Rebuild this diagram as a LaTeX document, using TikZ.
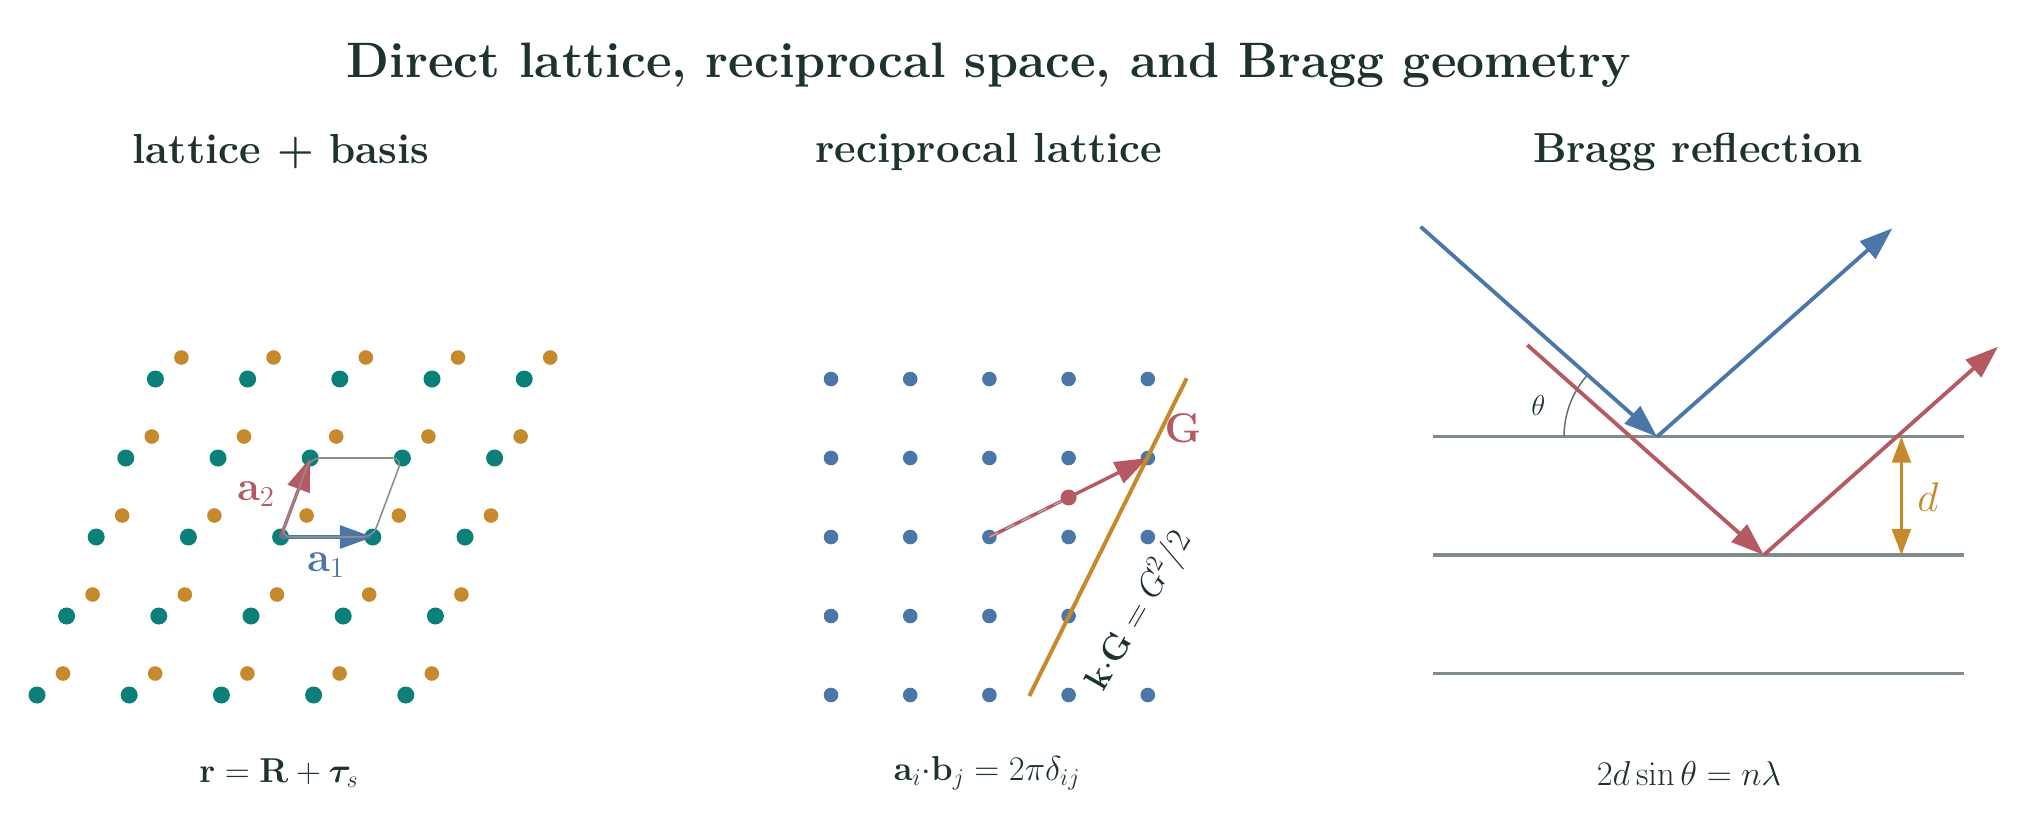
\documentclass[tikz,border=0pt]{standalone}
\usepackage{amsmath,bm}
\usetikzlibrary{arrows.meta}
\definecolor{cteal}{RGB}{10,128,120}
\definecolor{corange}{RGB}{198,138,44}
\definecolor{cblue}{RGB}{74,118,168}
\definecolor{cred}{RGB}{181,90,99}
\definecolor{cgrid}{RGB}{128,140,136}
\definecolor{ccell}{RGB}{138,143,141}
\definecolor{ctext}{RGB}{30,51,48}
\definecolor{carc}{RGB}{102,112,108}
\definecolor{cdash}{RGB}{175,180,178}
\begin{document}
\begin{tikzpicture}[x=0.5pt,y=-0.5pt,
  bigtip/.style={-{Triangle[length=16.5pt,width=11.5pt]}},
  ttl/.style={text=ctext,font=\fontsize{21}{25}\selectfont\bfseries},
  captxt/.style={text=ctext,font=\fontsize{17.5}{21}\selectfont},
  vecarrow/.style={line width=1.65pt,bigtip},
  rayarrow/.style={line width=1.9pt,bigtip},
  planeline/.style={cgrid,line width=1.65pt}]
\useasboundingbox (0,0) rectangle (2032,831);

% titles
\node[text=ctext,font=\fontsize{24.9}{30}\selectfont\bfseries] (title) at (989,65) {Direct lattice, reciprocal space, and Bragg geometry};
\node[ttl] (t1) at (281,152) {lattice + basis};
\node[ttl] (t2) at (989,152) {reciprocal lattice};
\node[ttl] (t3) at (1698,152) {Bragg reflection};

% captions
\node[captxt] (c1) at (279,773) {$\mathbf{r}=\mathbf{R}+\bm{\tau}_s$};
\node[captxt] (c2) at (987,773) {$\mathbf{a}_i{\cdot}\mathbf{b}_j=2\pi\delta_{ij}$};
\node[captxt] (c3) at (1689,773) {$2d\sin\theta=n\lambda$};

% ---------- lattice + basis ----------
\foreach \j in {0,...,4}{
  \foreach \i in {0,...,4}{
    \fill[cteal] ({37+92.2*\i+29.6*\j},{695-79*\j}) circle[radius=4.25pt];
    \fill[corange] ({63+92.2*\i+29.6*\j},{673.5-79*\j}) circle[radius=3.65pt];
  }
}
\coordinate (O) at (280.6,537);
\coordinate (A1) at (372.8,537);
\coordinate (A12) at (402.4,458);
\coordinate (A2) at (310.2,458);
\draw[cblue,vecarrow] (O) -- (A1);
\draw[cred,vecarrow] (O) -- (A2);
\draw[ccell,line width=0.8pt,rounded corners=5pt] (O) -- (A1) -- (A12) -- (A2) -- cycle;
\node[text=cblue,font=\fontsize{21}{24}\selectfont] (la1) at (326,565) {$\mathbf{a}_1$};
\node[text=cred,font=\fontsize{21}{24}\selectfont] (la2) at (256,494) {$\mathbf{a}_2$};

% ---------- reciprocal lattice ----------
\foreach \j in {0,...,4}{
  \foreach \i in {0,...,4}{
    \fill[cblue] ({831+79.2*\i},{379+79*\j}) circle[radius=3.65pt];
  }
}
\coordinate (K0) at (989.4,537);
\coordinate (KG) at (1147.8,458);
\coordinate (KM) at (1068.6,497.5);
\draw[cred,line width=1.7pt,bigtip] (K0) -- (KG);
\draw[cdash,line width=0.6pt,dash pattern=on 5pt off 4pt] (K0) -- (KM);
\fill[cred] (KM) circle[radius=4pt];
\node[text=ctext,fill=white,inner sep=1pt,rotate=60,font=\fontsize{17.5}{20}\selectfont] (bz) at (1139,611) {$\mathbf{k}{\cdot}\mathbf{G}=G^2/2$};
\coordinate (P1) at (1186.7,378.3);
\coordinate (P2) at (1029.3,696);
\draw[corange,line width=2pt] (P1) -- (P2);
\node[text=cred,font=\fontsize{21}{24}\selectfont] (lG) at (1183,428) {$\mathbf{G}$};

% ---------- Bragg reflection ----------
\coordinate (L1a) at (1433,436.7); \coordinate (L1b) at (1963.5,436.7);
\coordinate (L2a) at (1433,555);   \coordinate (L2b) at (1963.5,555);
\coordinate (L3a) at (1433,673.3); \coordinate (L3b) at (1963.5,673.3);
\draw[planeline] (L1a) -- (L1b);
\draw[planeline] (L2a) -- (L2b);
\draw[planeline] (L3a) -- (L3b);
\draw[carc,line width=0.75pt] plot[domain=138.4:180,samples=40] ({1657+93*cos(\x)},{436.7-93*sin(\x)});
\node[text=ctext,font=\fontsize{15}{18}\selectfont] (th) at (1538.4,405) {$\theta$};
\coordinate (B0) at (1420.6,226.7);
\coordinate (H1) at (1657,436.7);
\coordinate (B3) at (1892.3,228.3);
\coordinate (R0) at (1527.3,345);
\coordinate (H2) at (1763.8,555);
\coordinate (R3) at (1998,346.7);
\draw[cblue,rayarrow] (B0) -- (H1);
\draw[cblue,rayarrow] (H1) -- (B3);
\draw[cred,rayarrow] (R0) -- (H2);
\draw[cred,rayarrow] (H2) -- (R3);
\coordinate (D1) at (1901.4,436.7);
\coordinate (D2) at (1901.4,555);
\draw[corange,line width=1.1pt,{Triangle[length=13pt,width=9.5pt]}-{Triangle[length=13pt,width=9.5pt]}] (D1) -- (D2);
\node[text=corange,font=\fontsize{21}{24}\selectfont] (ld) at (1928,497) {$d$};
\end{tikzpicture}
\end{document}
